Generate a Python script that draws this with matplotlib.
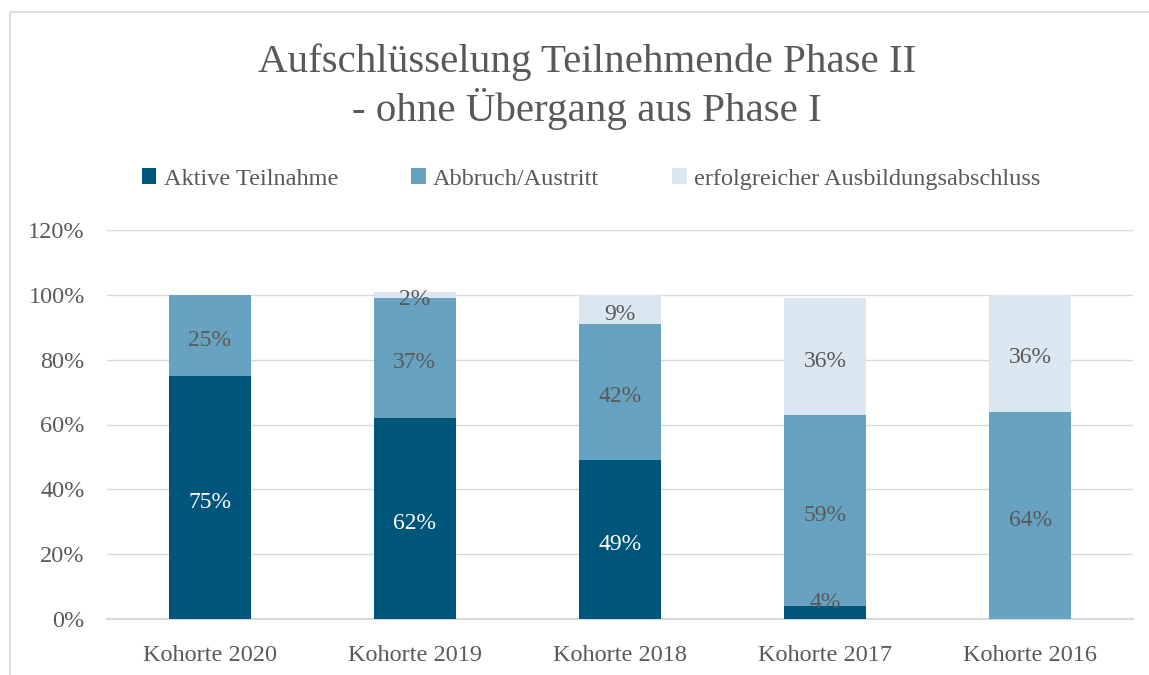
import matplotlib
matplotlib.use("Agg")
import matplotlib.pyplot as plt
from matplotlib.patches import Rectangle
import numpy as np

categories = ["Kohorte 2020", "Kohorte 2019", "Kohorte 2018", "Kohorte 2017", "Kohorte 2016"]
aktive = [75, 62, 49, 4, 0]
abbruch = [25, 37, 42, 59, 64]
erfolg = [0, 2, 9, 36, 36]
series_names = ["Aktive Teilnahme", "Abbruch/Austritt", "erfolgreicher Ausbildungsabschluss"]
colors = ["#00567A", "#67A2C0", "#DAE7F0"]
label_colors = ["white", "#595959", "#595959"]
yticks = [0, 20, 40, 60, 80, 100, 120]

plt.rcParams['font.family'] = ['Liberation Serif', 'DejaVu Serif']

fig = plt.figure(figsize=(11.49, 6.75), dpi=100)
fig.patches.append(Rectangle((10/1149, -0.1), 1.2, 1 - 12/675 + 0.1, transform=fig.transFigure,
                             fill=False, edgecolor="#D9D9D9", linewidth=1.2))

ax = fig.add_axes([107/1149, 1 - 619/675, 1026/1149, (619 - 230)/675])
x = np.arange(len(categories))
bottom = np.zeros(len(categories))
handles = []
for vals, name, col, lc in zip([aktive, abbruch, erfolg], series_names, colors, label_colors):
    v = np.array(vals, dtype=float)
    b = ax.bar(x, v, 0.4, bottom=bottom, color=col, label=name, zorder=3)
    handles.append(b)
    for xi, vi, bi in zip(x, v, bottom):
        if vi > 0:
            small = vi < 5 and bi == 0
            ypos = bi + vi / 2 + (4 if small else -0.7)
            ax.text(xi, ypos, f"{int(vi)}%", ha="center", va="center_baseline",
                    color="#595959" if small else lc, fontsize=17, zorder=4)
    bottom += v

ax.set_xlim(-0.5, len(categories) - 0.5)
ax.set_ylim(0, 120)
ax.set_yticks(yticks)
ax.set_yticklabels([f"{t}%" for t in yticks])
ax.set_xticks(x)
ax.set_xticklabels(categories)
ax.tick_params(axis="both", length=0, labelsize=17.5, colors="#595959")
ax.tick_params(axis="x", pad=19)
ax.tick_params(axis="y", pad=16)
ax.grid(axis="y", color="#D9D9D9", linewidth=1, zorder=0)
for s in ["top", "right", "left"]:
    ax.spines[s].set_visible(False)
ax.spines["bottom"].set_color("#D9D9D9")
ax.spines["bottom"].set_linewidth(1.5)

fig.text(587/1149, 1 - 87/675, "Aufschlüsselung Teilnehmende Phase II\n- ohne Übergang aus Phase I",
         ha="center", va="center", fontsize=29.5, color="#595959", linespacing=1.2)

fig.legend(handles=handles, labels=series_names, loc="center", bbox_to_anchor=(591/1149, 1 - 179/675),
           ncol=3, frameon=False, fontsize=17.5, handlelength=0.6, handleheight=0.6,
           handletextpad=0.3, columnspacing=3.0, labelcolor="#595959")

fig.savefig("out.png", dpi=100)
